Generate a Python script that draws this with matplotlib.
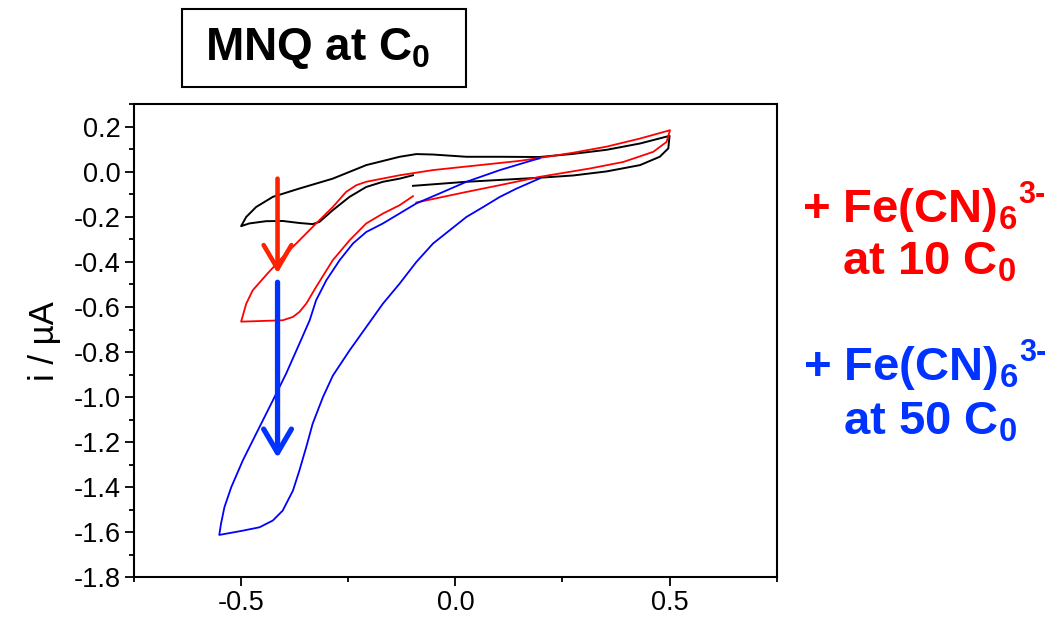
import matplotlib
matplotlib.use("Agg")
import matplotlib.pyplot as plt
from matplotlib.patches import Rectangle
from matplotlib.ticker import MultipleLocator, FormatStrFormatter

plt.rcParams['font.family'] = ['Liberation Sans', 'DejaVu Sans']
plt.rcParams['mathtext.fontset'] = 'custom'
plt.rcParams['mathtext.rm'] = 'Liberation Sans'
plt.rcParams['mathtext.bf'] = 'Liberation Sans:bold'
plt.rcParams['axes.unicode_minus'] = False

# MNQ at C0 (black)
black_x = [-0.099, 0.026, 0.197, 0.275, 0.353, 0.431, 0.477, 0.497, 0.500,
           0.431, 0.353, 0.275, 0.197, 0.104, 0.026, -0.052, -0.091, -0.130,
           -0.208, -0.286, -0.364, -0.426, -0.465, -0.488, -0.500,
           -0.481, -0.442, -0.403, -0.364, -0.333, -0.317, -0.286, -0.247,
           -0.208, -0.169, -0.130, -0.099]
black_y = [-0.062, -0.044, -0.026, -0.016, 0.002, 0.030, 0.067, 0.104, 0.160,
           0.126, 0.098, 0.080, 0.066, 0.067, 0.067, 0.077, 0.079, 0.067,
           0.030, -0.030, -0.074, -0.111, -0.156, -0.200, -0.241,
           -0.229, -0.219, -0.218, -0.227, -0.232, -0.222, -0.170, -0.111,
           -0.067, -0.044, -0.030, -0.015]

# + Fe(CN)6 3- at 10 C0 (red)
red_x = [-0.091, 0.026, 0.104, 0.197, 0.314, 0.392, 0.462, 0.493, 0.501,
         0.431, 0.353, 0.275, 0.197, 0.151, -0.052, -0.130, -0.208, -0.231,
         -0.255, -0.286, -0.325, -0.364, -0.403, -0.442, -0.473, -0.488, -0.500,
         -0.403, -0.379, -0.364, -0.348, -0.325, -0.286, -0.247, -0.208,
         -0.169, -0.130, -0.099]
red_y = [-0.136, -0.089, -0.059, -0.022, 0.015, 0.044, 0.089, 0.133, 0.185,
         0.148, 0.112, 0.085, 0.062, 0.049, 0.008, -0.015, -0.044, -0.059,
         -0.089, -0.156, -0.229, -0.304, -0.378, -0.459, -0.526, -0.585, -0.665,
         -0.659, -0.644, -0.622, -0.585, -0.511, -0.392, -0.304, -0.229,
         -0.185, -0.148, -0.108]

# + Fe(CN)6 3- at 50 C0 (blue)
blue_x = [0.197, 0.143, 0.104, 0.065, 0.026, -0.013, -0.052, -0.091, -0.130,
          -0.169, -0.208, -0.247, -0.286, -0.309, -0.333, -0.348, -0.364,
          -0.379, -0.403, -0.426, -0.457, -0.496, -0.551,
          -0.547, -0.539, -0.523, -0.496, -0.465, -0.426, -0.395, -0.364,
          -0.340, -0.325, -0.301, -0.270, -0.239, -0.208, -0.169, -0.091,
          -0.037, 0.026, 0.104, 0.181, 0.197]
blue_y = [-0.029, -0.074, -0.111, -0.156, -0.200, -0.259, -0.318, -0.400, -0.496,
          -0.585, -0.689, -0.793, -0.905, -1.000, -1.118, -1.222, -1.326,
          -1.415, -1.504, -1.548, -1.578, -1.593, -1.612,
          -1.563, -1.489, -1.400, -1.281, -1.163, -1.015, -0.896, -0.763,
          -0.659, -0.570, -0.481, -0.392, -0.318, -0.267, -0.229, -0.140,
          -0.096, -0.044, 0.008, 0.052, 0.060]

# arrows: (x, y_start, y_end)
red_arrow = (-0.415, -0.03, -0.45)
blue_arrow = (-0.415, -0.49, -1.27)

fig = plt.figure(figsize=(10.51, 6.19), dpi=100)
ax = fig.add_axes([0.1275, 0.0674, 0.6115, 0.7641])

ax.plot(black_x, black_y, color='black', lw=1.4)
ax.plot(red_x, red_y, color='#ff0000', lw=1.3)
ax.plot(blue_x, blue_y, color='#0000ff', lw=1.3)

ax.annotate('', xy=(red_arrow[0], red_arrow[2]), xytext=(red_arrow[0], red_arrow[1]),
            arrowprops=dict(arrowstyle='->,head_length=0.85,head_width=0.5', lw=3.3,
                            color='#ff2200', shrinkA=0, shrinkB=0, mutation_scale=20))
ax.annotate('', xy=(blue_arrow[0], blue_arrow[2]), xytext=(blue_arrow[0], blue_arrow[1]),
            arrowprops=dict(arrowstyle='->,head_length=0.85,head_width=0.5', lw=3.8,
                            color='#0033ff', shrinkA=0, shrinkB=0, mutation_scale=20))

ax.set_xlim(-0.75, 0.75)
ax.set_ylim(-1.8, 0.3)
ax.xaxis.set_major_locator(MultipleLocator(0.5))
ax.xaxis.set_minor_locator(MultipleLocator(0.25))
ax.yaxis.set_major_locator(MultipleLocator(0.2))
ax.yaxis.set_minor_locator(MultipleLocator(0.1))
ax.xaxis.set_major_formatter(FormatStrFormatter('%.1f'))
ax.yaxis.set_major_formatter(FormatStrFormatter('%.1f'))
ax.tick_params(which='major', direction='out', length=6.5, width=1.3, labelsize=19.5, pad=3)
ax.tick_params(which='minor', direction='out', length=3.6, width=1.3)
for s in ax.spines.values():
    s.set_linewidth(1.5)
ax.set_ylabel('i / µA', fontsize=25, labelpad=9)

W, H = 1051, 619

# title box
fig.patches.append(Rectangle((182 / W, 1 - 87 / H), 284 / W, 78 / H,
                             transform=fig.transFigure, fill=False, lw=1.5, edgecolor='black'))
fig.text(205 / W, 1 - 60 / H, r'MNQ at C$_\mathbf{0}$', fontsize=33, fontweight='bold',
         ha='left', va='baseline')

# right labels
renderer = fig.canvas.get_renderer()
for col, conc, y1, y2, x1, x2 in [('#ff0000', '10', 222, 275, 802, 842),
                                  ('#0033ff', '50', 380, 435, 803, 843)]:
    t = fig.text(x1 / W, 1 - y1 / H, r'+ Fe(CN)$_\mathbf{6}$', fontsize=34,
                 fontweight='bold', color=col, ha='left', va='baseline')
    bb = t.get_window_extent(renderer)
    fig.text((bb.x1 + 1) / W, 1 - (y1 - 19) / H, '3-', fontsize=22,
             fontweight='bold', color=col, ha='left', va='baseline')
    fig.text(x2 / W, 1 - y2 / H, r'at ' + conc + r' C$_\mathbf{0}$', fontsize=34,
             fontweight='bold', color=col, ha='left', va='baseline')

fig.savefig('out.png', dpi=100)
